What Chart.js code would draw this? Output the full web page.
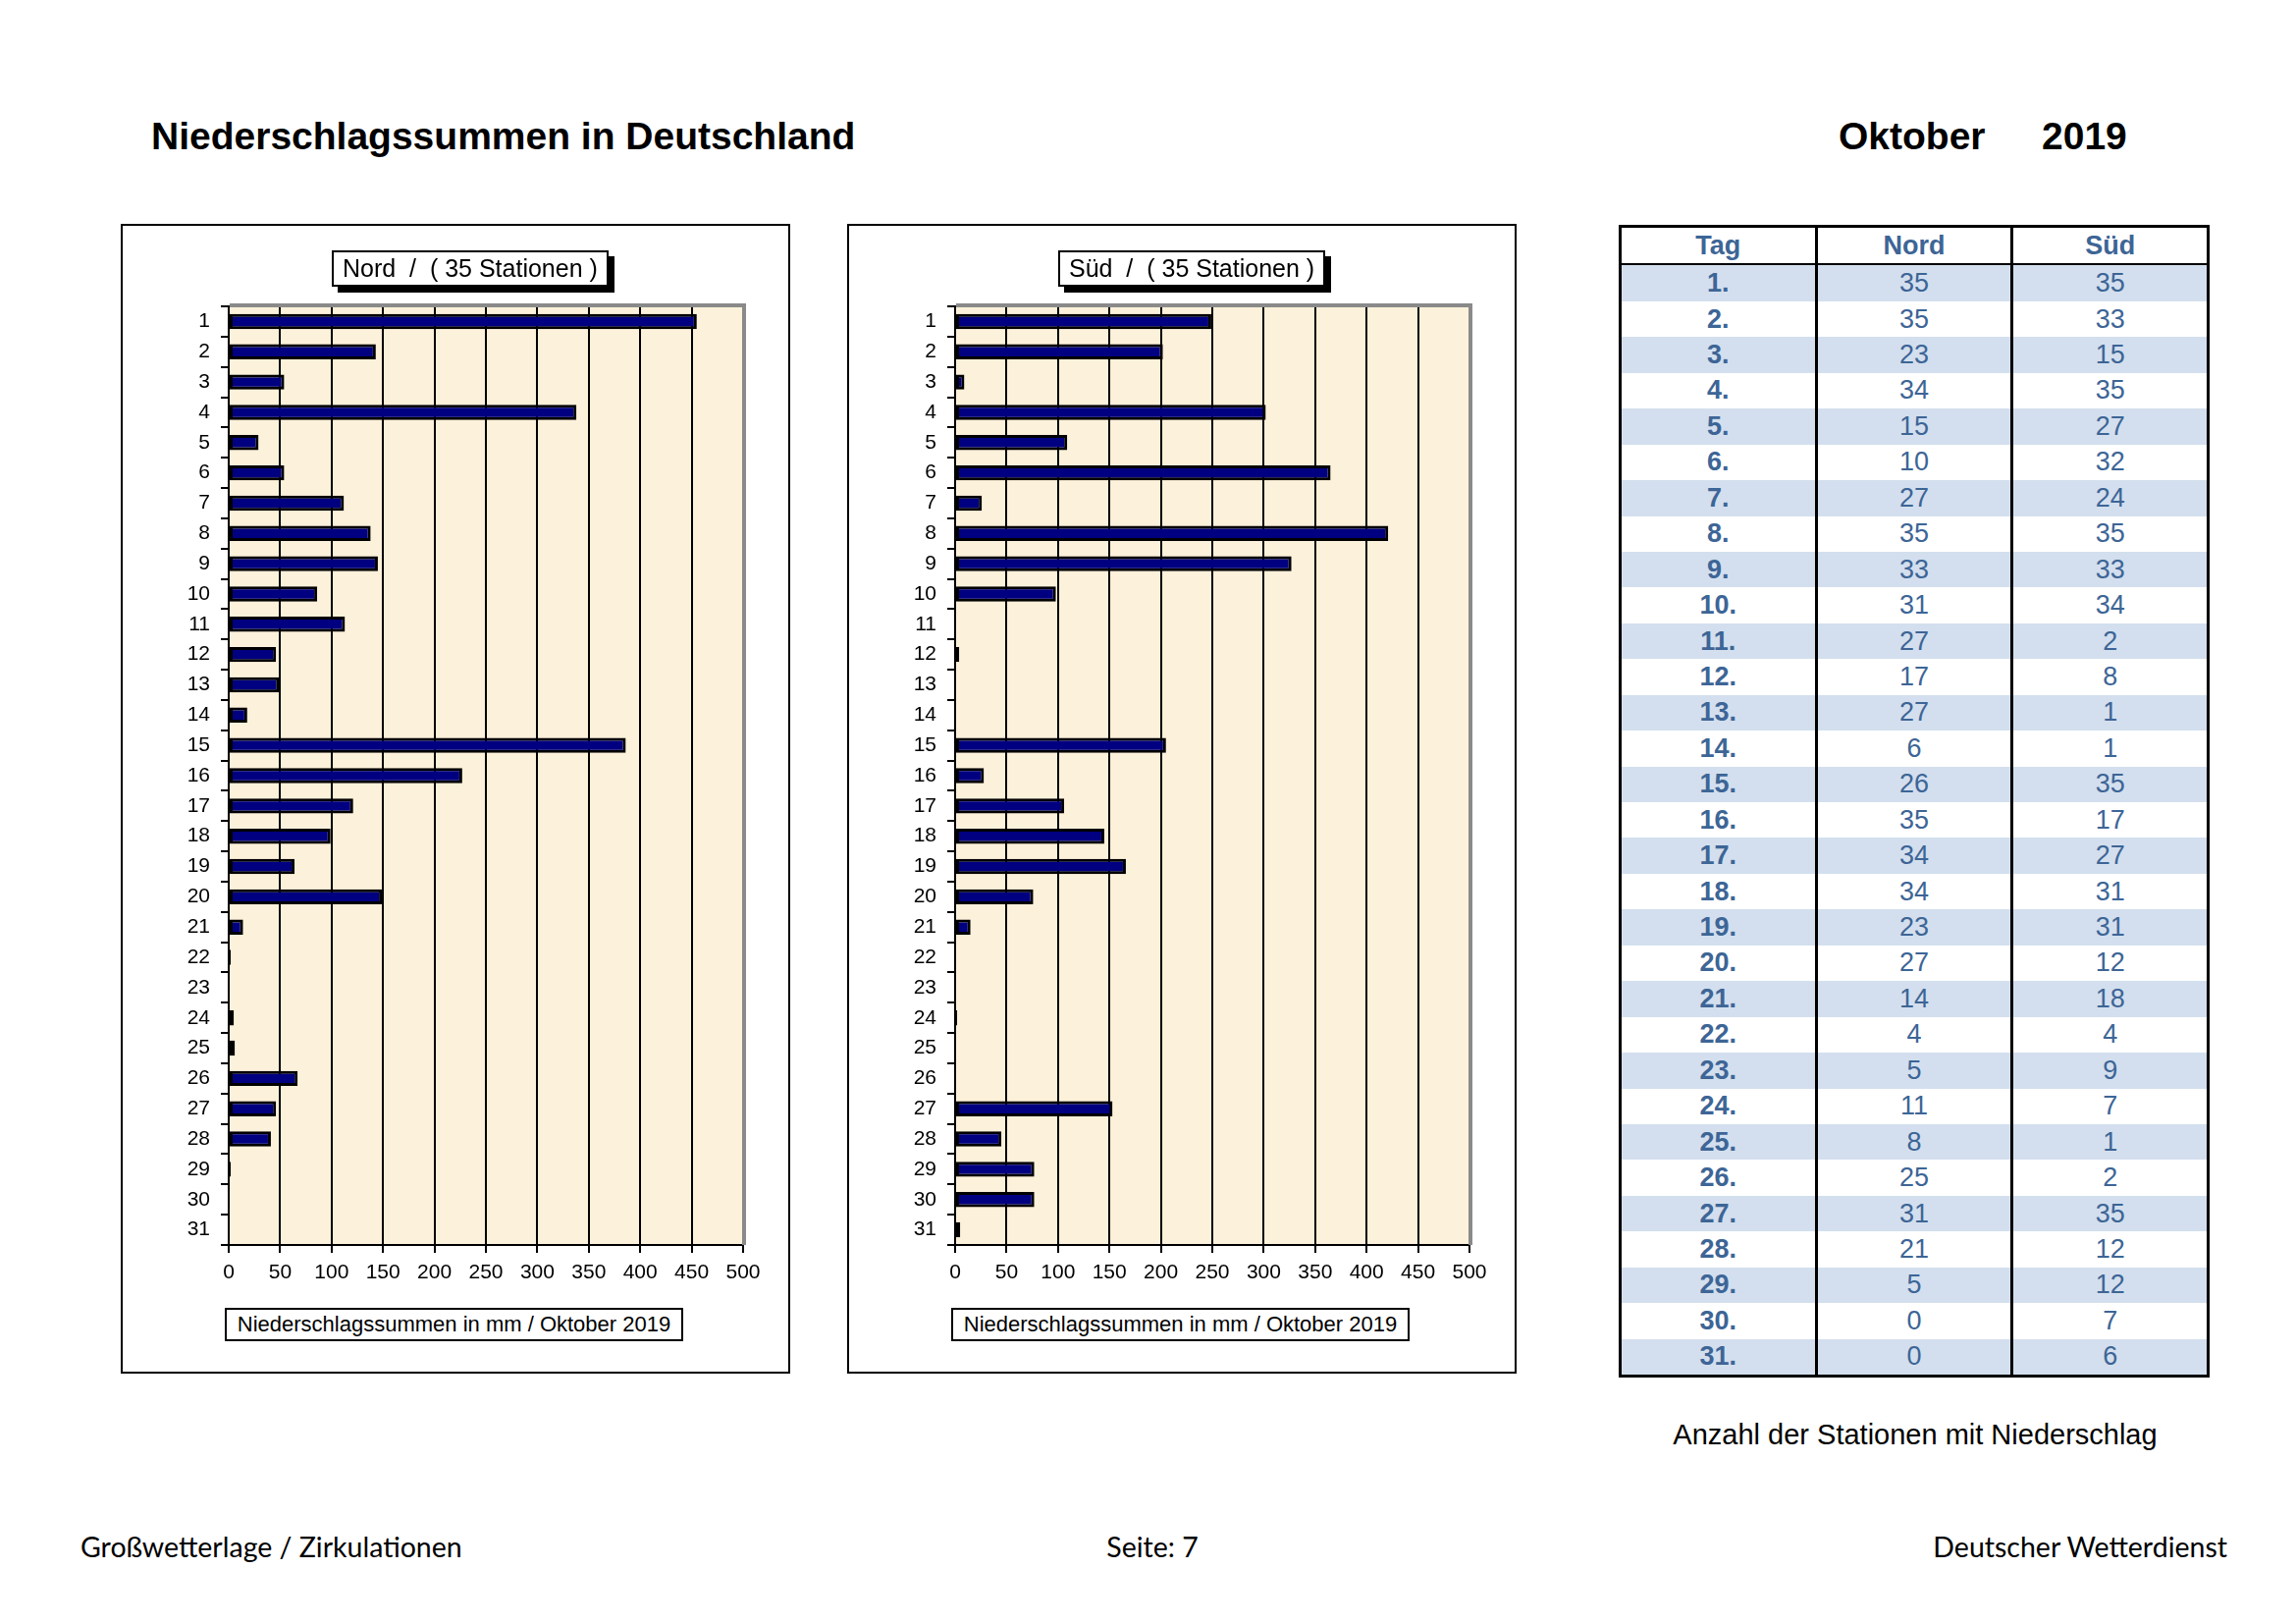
<!DOCTYPE html>
<html lang="de">
<head>
<meta charset="utf-8">
<title>Niederschlagssummen in Deutschland – Oktober 2019</title>
<script src="https://cdn.jsdelivr.net/npm/chart.js@4.4.1/dist/chart.umd.min.js"></script>
<style>
  html, body { margin: 0; padding: 0; background: #fff; }
  body { width: 2339px; height: 1653px; position: relative; overflow: hidden;
         font-family: "Liberation Sans", Arial, sans-serif; color: #000; }
  .abs { position: absolute; white-space: pre; line-height: 1; }
  .head { font-size: 39px; font-weight: bold; top: 119px; }
  .frame { position: absolute; top: 228px; width: 678px; height: 1167px; border: 2px solid #000; background: #fff; }
  .frame .cv { position: absolute; left: 0; top: 0; width: 678px; height: 1167px; }
  .box-title { position: absolute; top: 25px; left: 213px; height: 33px; line-height: 33px; padding: 0 9px;
               border: 2px solid #000; background: #fff; font-size: 25px; white-space: pre;
               box-shadow: 6px 6px 0 #000; z-index: 2; }
  .box-axis { position: absolute; top: 1102px; left: 104px; width: 463px; height: 30px; line-height: 30px;
              border: 2px solid #000; background: #fff; font-size: 22px; text-align: center; white-space: pre; z-index: 2; }
  table { position: absolute; left: 1649px; top: 229px; width: 602px; border-collapse: collapse; table-layout: fixed;
          border: 3px solid #000; font-size: 27px; color: #3D6596; }
  th, td { height: 36.45px; padding: 0; text-align: center; border-left: 3px solid #000; border-right: 3px solid #000; line-height: 1; }
  th { font-weight: bold; border-bottom: 2px solid #000; background: #fff; }
  td.day { font-weight: bold; }
  tbody tr:nth-child(odd) td { background: #D3DFEE; }
  .foot { font-family: Lato, "Open Sans", sans-serif; font-size: 28.5px; top: 1561px; }
</style>
</head>
<body>

<div class="abs head" style="left:154px">Niederschlagssummen in Deutschland</div>
<div class="abs head" style="left:1873px">Oktober</div>
<div class="abs head" style="left:2080px">2019</div>

<div class="frame" style="left:123px">
  <div class="box-title">Nord  /  ( 35 Stationen )</div>
  <div class="cv"><canvas id="nord"></canvas></div>
  <div class="box-axis">Niederschlagssummen in mm / Oktober 2019</div>
</div>

<div class="frame" style="left:863px">
  <div class="box-title">Süd  /  ( 35 Stationen )</div>
  <div class="cv"><canvas id="sued"></canvas></div>
  <div class="box-axis">Niederschlagssummen in mm / Oktober 2019</div>
</div>

<table id="stations">
  <colgroup><col><col><col></colgroup>
  <thead><tr><th>Tag</th><th>Nord</th><th>Süd</th></tr></thead>
  <tbody></tbody>
</table>

<div class="abs" style="left:1700px; top:1447px; width:502px; text-align:center; font-size:29px">Anzahl der Stationen mit Niederschlag</div>

<div class="abs foot" style="left:82px">Großwetterlage / Zirkulationen</div>
<div class="abs foot" style="left:1074px; width:200px; text-align:center">Seite: 7</div>
<div class="abs foot" style="left:1869px; width:400px; text-align:right">Deutscher Wetterdienst</div>

<script>
  // days of October 2019
  const DAYS = ['1', '2', '3', '4', '5', '6', '7', '8', '9', '10', '11', '12', '13', '14', '15', '16',
                '17', '18', '19', '20', '21', '22', '23', '24', '25', '26', '27', '28', '29', '30', '31'];

  // precipitation sums in mm
  const NORD_MM = [455, 143, 54, 338, 29, 54, 112, 138, 145, 86, 113, 46, 49, 18, 386, 227,
                   121, 99, 64, 149, 14, 2, 1, 5, 6, 67, 46, 41, 2, 0, 0];
  const SUED_MM = [249, 202, 9, 302, 109, 365, 26, 421, 327, 98, 0, 4, 0, 0, 205, 28,
                   106, 145, 166, 76, 15, 1, 1, 2, 0, 1, 153, 45, 77, 77, 5];

  // number of stations with precipitation
  const NORD_STATIONS = [35, 35, 23, 34, 15, 10, 27, 35, 33, 31, 27, 17, 27, 6, 26, 35,
                         34, 34, 23, 27, 14, 4, 5, 11, 8, 25, 31, 21, 5, 0, 0];
  const SUED_STATIONS = [35, 33, 15, 35, 27, 32, 24, 35, 33, 34, 2, 8, 1, 1, 35, 17,
                         27, 31, 31, 12, 18, 4, 9, 7, 1, 2, 35, 12, 12, 7, 6];

  const X_MIN = 0, X_MAX = 500, X_STEP = 50;

  /* -------------------- station table -------------------- */
  const tbody = document.querySelector('#stations tbody');
  tbody.innerHTML = DAYS.map((d, i) =>
    '<tr><td class="day">' + d + '.</td><td>' + NORD_STATIONS[i] + '</td><td>' + SUED_STATIONS[i] + '</td></tr>'
  ).join('');

  /* -------------------- charts -------------------- */
  Chart.defaults.font.family = '"Liberation Sans", Arial, sans-serif';
  Chart.defaults.color = '#000';

  // parchment plot background + grey frame on top / right
  const plotFrame = {
    id: 'plotFrame',
    beforeDraw(chart) {
      const a = chart.chartArea, c = chart.ctx;
      c.save();
      c.fillStyle = '#FCF1DA';
      c.fillRect(a.left, a.top, a.right - a.left, a.bottom - a.top);
      c.restore();
    },
    afterDraw(chart) {
      const a = chart.chartArea, c = chart.ctx;
      c.save();
      c.strokeStyle = '#8a8a8a';
      c.lineWidth = 4;
      c.beginPath();
      c.moveTo(a.left + 1, a.top - 1);
      c.lineTo(a.right + 1, a.top - 1);
      c.lineTo(a.right + 1, a.bottom);
      c.stroke();
      c.restore();
    }
  };

  function makeChart(id, values) {
    return new Chart(document.getElementById(id), {
      type: 'bar',
      data: {
        labels: DAYS,
        datasets: [{
          data: values,
          backgroundColor: '#000080',
          borderColor: '#000',
          borderWidth: 3,
          borderSkipped: false,
          barPercentage: 0.5,
          categoryPercentage: 1
        }]
      },
      options: {
        indexAxis: 'y',
        responsive: true, maintainAspectRatio: false, animation: false, devicePixelRatio: 1,
        layout: { padding: { top: 82, right: 46, bottom: 69, left: 0 } },
        plugins: { legend: { display: false }, tooltip: { enabled: false } },
        scales: {
          x: {
            min: X_MIN, max: X_MAX,
            ticks: { stepSize: X_STEP, font: { size: 21 }, padding: 8, maxRotation: 0, autoSkip: false },
            grid: { color: '#000', lineWidth: 2, tickLength: 8 },
            border: { color: '#000', width: 2 },
            afterFit(s) { s.height = 60; }
          },
          y: {
            ticks: { font: { size: 21 }, padding: 11, autoSkip: false },
            grid: { drawOnChartArea: false, color: '#000', lineWidth: 2, tickLength: 8, offset: true },
            border: { color: '#000', width: 2 },
            afterFit(s) { s.width = 108; }
          }
        }
      },
      plugins: [plotFrame]
    });
  }

  makeChart('nord', NORD_MM);
  makeChart('sued', SUED_MM);
</script>
</body>
</html>
